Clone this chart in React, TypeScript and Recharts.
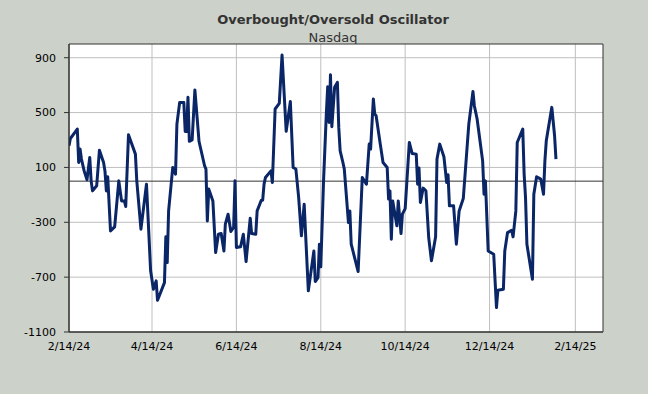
import React from 'react';
import { LineChart, Line, XAxis, YAxis, CartesianGrid, ReferenceLine, ReferenceArea } from 'recharts';

const dates: string[] = [
  '2024-02-14','2024-02-15','2024-02-20','2024-02-21','2024-02-22','2024-02-23','2024-02-25','2024-02-27','2024-02-29','2024-03-01',
  '2024-03-02','2024-03-05','2024-03-07','2024-03-10','2024-03-11','2024-03-12','2024-03-13','2024-03-15','2024-03-18','2024-03-21',
  '2024-03-23','2024-03-25','2024-03-26','2024-03-28','2024-04-02','2024-04-03','2024-04-06','2024-04-10','2024-04-13','2024-04-15',
  '2024-04-17','2024-04-18','2024-04-23','2024-04-24','2024-04-25','2024-04-26','2024-04-29','2024-05-01','2024-05-02','2024-05-04',
  '2024-05-07','2024-05-08','2024-05-09','2024-05-10','2024-05-11','2024-05-13','2024-05-15','2024-05-18','2024-05-22','2024-05-23',
  '2024-05-24','2024-05-25','2024-05-28','2024-05-30','2024-06-01','2024-06-03','2024-06-05','2024-06-06','2024-06-08','2024-06-10',
  '2024-06-12','2024-06-13','2024-06-14','2024-06-17','2024-06-19','2024-06-21','2024-06-24','2024-06-25','2024-06-28','2024-06-29',
  '2024-07-02','2024-07-03','2024-07-04','2024-07-05','2024-07-09','2024-07-10','2024-07-12','2024-07-15','2024-07-17','2024-07-20',
  '2024-07-23','2024-07-25','2024-07-27','2024-07-29','2024-07-31','2024-08-02','2024-08-05','2024-08-09','2024-08-10','2024-08-12',
  '2024-08-13','2024-08-14','2024-08-16','2024-08-18','2024-08-19','2024-08-20','2024-08-21','2024-08-22','2024-08-24','2024-08-26',
  '2024-08-27','2024-08-28','2024-08-30','2024-08-31','2024-09-03','2024-09-04','2024-09-05','2024-09-10','2024-09-13','2024-09-16',
  '2024-09-18','2024-09-19','2024-09-21','2024-09-22','2024-09-23','2024-09-26','2024-09-28','2024-10-01','2024-10-02','2024-10-03',
  '2024-10-04','2024-10-05','2024-10-08','2024-10-09','2024-10-11','2024-10-12','2024-10-14','2024-10-17','2024-10-19','2024-10-22',
  '2024-10-23','2024-10-24','2024-10-25','2024-10-27','2024-10-29','2024-10-31','2024-11-02','2024-11-05','2024-11-06','2024-11-08',
  '2024-11-11','2024-11-13','2024-11-14','2024-11-15','2024-11-18','2024-11-20','2024-11-22','2024-11-25','2024-11-29','2024-12-02',
  '2024-12-03','2024-12-05','2024-12-09','2024-12-10','2024-12-11','2024-12-13','2024-12-17','2024-12-19','2024-12-20','2024-12-24',
  '2024-12-25','2024-12-27','2024-12-30','2024-12-31','2025-01-02','2025-01-03','2025-01-07','2025-01-08','2025-01-09','2025-01-10',
  '2025-01-14','2025-01-15','2025-01-17','2025-01-20','2025-01-22','2025-01-23','2025-01-24','2025-01-28','2025-01-30','2025-01-31',
];

const oscillator: number[] = [
  258, 311, 380, 136, 234, 161, 73, 10, 173, 2,
  -71, -34, 226, 136, 73, -71, 32, -363, -333, 2,
  -144, -144, -185, 338, 197, 2, -350, -22, -654, -788,
  -727, -869, -740, -406, -594, -217, 100, 51, 416, 574,
  574, 362, 362, 611, 290, 300, 665, 289, 112, 88,
  -290, -58, -144, -521, -387, -382, -509, -314, -241, -367,
  -338, 2, -484, -479, -387, -586, -270, -382, -387, -217,
  -139, -139, -22, 27, 75, -10, 526, 567, 920, 363,
  581, 100, 88, -119, -399, -168, -800, -509, -732, -703,
  -460, -625, 2, 489, 689, 428, 776, 397, 684, 720,
  392, 221, 136, 88, -302, -217, -460, -659, 27, -22,
  270, 234, 599, 489, 477, 270, 136, 100, -131, -71,
  -423, -144, -326, -144, -382, -241, -200, 282, 202, 197,
  -22, 95, -156, -51, -71, -411, -581, -406, 161, 270,
  178, -10, 46, -180, -180, -460, -217, -127, 416, 654,
  550, 453, 148, -95, 2, -509, -533, -922, -796, -788,
  -509, -375, -358, -406, -217, 282, 380, 50, -119, -460,
  -715, -95, 32, 15, -95, 148, 294, 538, 331, 161,
];

const xTickDates: string[] = ['2024-02-14', '2024-04-14', '2024-06-14', '2024-08-14', '2024-10-14', '2024-12-14', '2025-02-14'];
const xTickLabels: string[] = ['2/14/24', '4/14/24', '6/14/24', '8/14/24', '10/14/24', '12/14/24', '2/14/25'];
const xDomainDates: string[] = ['2024-02-14', '2025-03-06'];
const yTicks: number[] = [-1100, -700, -300, 100, 500, 900];
const yDomain: number[] = [-1100, 1000];

const toTime = (s: string) => Date.parse(s + 'T00:00:00Z');

const data = dates.map((d, i) => ({ t: toTime(d), v: oscillator[i] }));
const xTicks = xTickDates.map(toTime);
const labelMap: Record<number, string> = {};
xTicks.forEach((t, i) => { labelMap[t] = xTickLabels[i]; });

const FONT = '"DejaVu Sans", Verdana, sans-serif';

export default function App() {
  return (
    <div style={{ position: 'absolute', left: 0, top: 0, width: 648, height: 394, background: '#CCD1CA', fontFamily: FONT }}>
      <div style={{ position: 'absolute', left: 0, width: 666, top: 12, textAlign: 'center', fontSize: 13, fontWeight: 'bold', color: '#333333' }}>
        Overbought/Oversold Oscillator
      </div>
      <div style={{ position: 'absolute', left: 0, width: 666, top: 30, textAlign: 'center', fontSize: 13, color: '#333333' }}>
        Nasdaq
      </div>
      <LineChart
        width={648}
        height={394}
        data={data}
        margin={{ top: 44, right: 45, left: 0, bottom: 32 }}
        style={{ position: 'absolute', left: 0, top: 0 }}
      >
        <CartesianGrid stroke="#BFBFBF" strokeWidth={1} fill="#FFFFFF" verticalValues={xTicks} horizontalValues={yTicks} />
        <XAxis
          dataKey="t"
          type="number"
          scale="time"
          domain={xDomainDates.map(toTime)}
          ticks={xTicks}
          tickFormatter={(t: number) => labelMap[t] ?? ''}
          tick={{ fontSize: 11, fill: '#000000', fontFamily: FONT }}
          tickLine={false}
          tickSize={5}
          tickMargin={5}
          axisLine={{ stroke: '#333333' }}
          height={30}
          allowDataOverflow
          interval={0}
        />
        <YAxis
          type="number"
          domain={yDomain}
          ticks={yTicks}
          tick={{ fontSize: 11, fill: '#000000', fontFamily: FONT }}
          tickLine={{ stroke: '#333333' }}
          tickSize={5}
          tickMargin={8}
          axisLine={{ stroke: '#333333' }}
          width={69}
          allowDataOverflow
          interval={0}
        />
        <ReferenceArea
          x1={toTime(xDomainDates[0])}
          x2={toTime(xDomainDates[1])}
          y1={yDomain[0]}
          y2={yDomain[1]}
          fill="none"
          fillOpacity={0}
          stroke="#333333"
          strokeWidth={1}
        />
        <ReferenceLine y={0} stroke="#333333" strokeWidth={1} />
        <Line
          type="linear"
          dataKey="v"
          stroke="#0A2666"
          strokeWidth={3}
          dot={false}
          activeDot={false}
          isAnimationActive={false}
          strokeLinejoin="round"
        />
      </LineChart>
    </div>
  );
}
